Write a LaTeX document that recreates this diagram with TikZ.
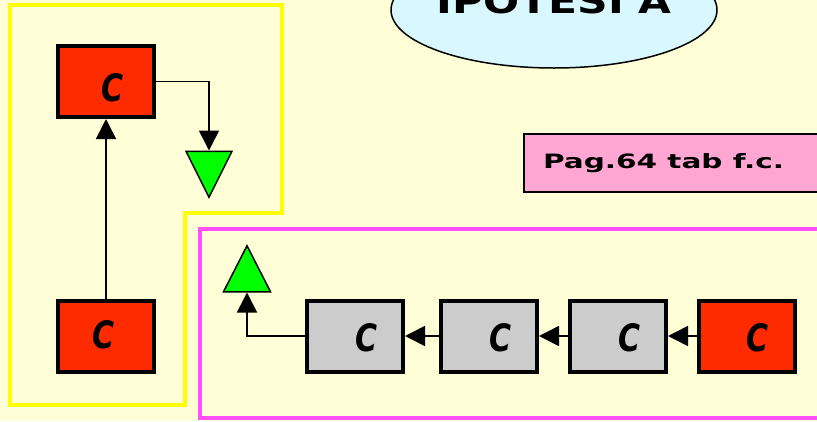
\documentclass[tikz,border=0pt]{standalone}
\usepackage{fontspec}
\setmainfont{DejaVu Sans}
\usetikzlibrary{arrows.meta,shapes.geometric}
\definecolor{bgc}{HTML}{FFFED7}
\definecolor{cred}{HTML}{FF2B00}
\definecolor{cgray}{HTML}{CCCCCC}
\definecolor{cgreen}{HTML}{00FF00}
\definecolor{cpink}{HTML}{FFA6D3}
\definecolor{ccyan}{HTML}{D9F7FF}
\definecolor{cmag}{HTML}{FF4FFF}
\definecolor{cyellow}{HTML}{FFFF00}
\newcommand{\cee}[2]{\hspace*{#1}\raisebox{#2}[28pt][0pt]{\resizebox{22pt}{28pt}{\bfseries\itshape C}}}
\begin{document}
\begin{tikzpicture}[x=1pt,y=-1pt,
 cbox/.style={draw=black, line width=4pt, minimum width=96pt, minimum height=71pt, inner sep=0pt},
 redbox/.style={cbox, fill=cred},
 graybox/.style={cbox, fill=cgray},
 gtri/.style={draw=black, fill=cgreen, line width=1.5pt, isosceles triangle, isosceles triangle stretches, minimum width=46pt, minimum height=46pt, inner sep=0pt},
 arr/.style={draw=black, line width=1.6pt, -{Triangle[length=20pt,width=20pt]}},
]
\fill[bgc] (0,0) rectangle (817,421);
\useasboundingbox (0,0) rectangle (817,421);
\draw[cyellow, line width=4pt, line join=miter] (10,5) -- (282,5) -- (282,212.5) -- (185,212.5) -- (185,405) -- (10,405) -- cycle;
\draw[cmag, line width=4pt] (830,229) -- (200,229) -- (200,417.5) -- (830,417.5);
\node[ellipse, draw=black, fill=ccyan, line width=1.5pt, minimum width=326pt, minimum height=116pt, inner sep=0pt] (hyp) at (554,10)
 {\makebox[0pt]{\raisebox{-3pt}[12.5pt][12.5pt]{\resizebox{235pt}{25pt}{\bfseries IPOTESI A}}}};
\node[draw=black, line width=2pt, fill=cpink, anchor=west, minimum height=58pt, inner xsep=19pt, inner ysep=0pt] (ref) at (523,163)
 {\resizebox{241pt}{15pt}{\bfseries Pag.64 tab f.c.}\hspace*{40pt}};
\node[redbox] (tl) at (106,81.5) {\cee{13pt}{-6pt}};
\node[redbox] (bl) at (106,336) {\cee{-4pt}{2pt}};
\node[graybox] (g1) at (355,336) {\cee{22pt}{-1pt}};
\node[graybox] (g2) at (489,336) {\cee{22pt}{-1pt}};
\node[graybox] (g3) at (618,336) {\cee{22pt}{-1pt}};
\node[redbox] (r4) at (746.5,336) {\cee{21pt}{-1pt}};
\node[gtri, shape border rotate=-90, anchor=lower side] (tdown) at (209,150.5) {};
\node[gtri, shape border rotate=90, anchor=lower side, minimum width=47pt] (tup) at (247,292.5) {};
\draw[arr] (bl.north) -- (tl.south);
\draw[arr] (tl.east) -| (tdown.lower side);
\draw[arr] (g1.west) -| (tup.lower side);
\draw[arr] (g2.west) -- (g1.east);
\draw[arr] (g3.west) -- (g2.east);
\draw[arr] (r4.west) -- (g3.east);
\end{tikzpicture}
\end{document}
